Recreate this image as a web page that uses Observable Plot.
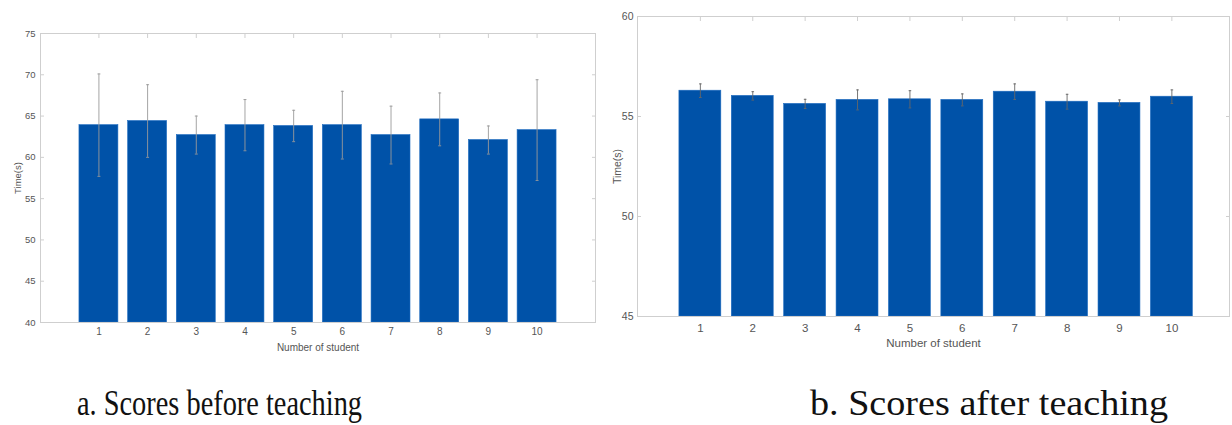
<!DOCTYPE html>
<html>
<head>
<meta charset="utf-8">
<script src="https://cdn.jsdelivr.net/npm/d3@7"></script>
<script src="https://cdn.jsdelivr.net/npm/@observablehq/plot@0.6"></script>
<style>
  html, body { margin: 0; padding: 0; background: #fff; }
  #wrap { position: relative; width: 1232px; height: 425px; overflow: hidden; }
  #left { position: absolute; left: 0; top: 0; }
  #right { position: absolute; left: 600px; top: 0; }
  #caps { position: absolute; left: 0; top: 360px; }
</style>
</head>
<body>
<div id="wrap">
  <div id="left"></div>
  <div id="right"></div>
  <svg id="caps" width="1232" height="65" font-family="'Liberation Serif', 'Times New Roman', serif" font-size="35" fill="#111">
    <text x="77" y="55" textLength="285" lengthAdjust="spacingAndGlyphs">a. Scores before teaching</text>
    <text x="810" y="55" textLength="358" lengthAdjust="spacingAndGlyphs">b. Scores after teaching</text>
  </svg>
</div>
<script>
const students = [1, 2, 3, 4, 5, 6, 7, 8, 9, 10];
const beforeMean = [63.9, 64.4, 62.7, 63.9, 63.8, 63.9, 62.7, 64.6, 62.1, 63.3];
const beforeErr  = [6.2, 4.4, 2.3, 3.1, 1.9, 4.1, 3.5, 3.2, 1.7, 6.1];
const afterMean  = [56.29, 56.03, 55.63, 55.83, 55.86, 55.83, 56.24, 55.74, 55.68, 55.99];
const afterErr   = [0.34, 0.21, 0.23, 0.50, 0.43, 0.30, 0.39, 0.37, 0.15, 0.34];
const beforeYTicks = [40, 45, 50, 55, 60, 65, 70, 75];
const afterYTicks  = [45, 50, 55, 60];
const xLabel = "Number of student";
const yLabel = "Time(s)";

const barColor = "#0052A8";
const frameColor = "#cfcfcf";

function chart({means, errs, yTicks, xDomain, width, height, margins, fontSize, labelSize, xPad, yPad, xLabelOffset, yLabelOffset, errColor, capHalf}) {
  const data = students.map((s, i) => ({s, v: means[i], e: errs[i]}));
  const y0 = yTicks[0];
  return Plot.plot({
    width, height,
    marginLeft: margins[0], marginRight: margins[1], marginTop: margins[2], marginBottom: margins[3],
    style: {color: "#555", fontFamily: "'Liberation Sans', Arial, sans-serif", fontSize: fontSize + "px", background: "white"},
    x: {type: "linear", domain: xDomain},
    y: {domain: [yTicks[0], yTicks[yTicks.length - 1]]},
    marks: [
      Plot.rect(data, {x1: d => d.s - 0.4, x2: d => d.s + 0.4, y1: y0, y2: "v", fill: barColor, stroke: "#1e6cc0", strokeWidth: 0.6}),
      Plot.ruleX(data, {x: "s", y1: d => d.v - d.e, y2: d => d.v + d.e, stroke: errColor, strokeWidth: 0.9}),
      Plot.link(data, {x1: d => d.s - capHalf, x2: d => d.s + capHalf, y1: d => d.v + d.e, y2: d => d.v + d.e, stroke: errColor, strokeWidth: 0.9}),
      Plot.link(data, {x1: d => d.s - capHalf, x2: d => d.s + capHalf, y1: d => d.v - d.e, y2: d => d.v - d.e, stroke: errColor, strokeWidth: 0.9}),
      Plot.frame({stroke: frameColor}),
      Plot.axisY({ticks: yTicks, tickSize: 0, tickPadding: yPad, tickFormat: d => String(d), label: yLabel, labelAnchor: "center", labelOffset: yLabelOffset, labelArrow: "none", fontSize: labelSize + "px"}),
      Plot.axisY({ticks: yTicks, tickSize: 4, dx: 4, tickFormat: () => "", label: null, stroke: frameColor}),
      Plot.axisY({anchor: "right", ticks: yTicks, tickSize: 4, dx: -4, tickFormat: () => "", label: null, stroke: frameColor}),
      Plot.axisX({anchor: "top", ticks: students, tickSize: 4, dy: 4, tickFormat: () => "", label: null, stroke: frameColor}),
      Plot.axisX({ticks: students, tickSize: 0, tickPadding: xPad, tickFormat: d => String(d), label: xLabel, labelAnchor: "center", labelOffset: xLabelOffset, labelArrow: "none"})
    ]
  });
}

document.getElementById("left").append(chart({
  means: beforeMean, errs: beforeErr, yTicks: beforeYTicks, xDomain: [-0.2, 11.2],
  width: 600, height: 360, margins: [40, 5, 33, 38], fontSize: 10, labelSize: 9.5,
  xPad: 5, yPad: 5, xLabelOffset: 28, yLabelOffset: 26, errColor: "#9a9a9a", capHalf: 0.03
}));
document.getElementById("right").append(chart({
  means: afterMean, errs: afterErr, yTicks: afterYTicks, xDomain: [-0.2, 11.1],
  width: 632, height: 360, margins: [37, 3, 16, 44], fontSize: 11.5, labelSize: 10.5,
  xPad: 7, yPad: 4, xLabelOffset: 30, yLabelOffset: 24, errColor: "#666", capHalf: 0.025
}));
</script>
</body>
</html>
